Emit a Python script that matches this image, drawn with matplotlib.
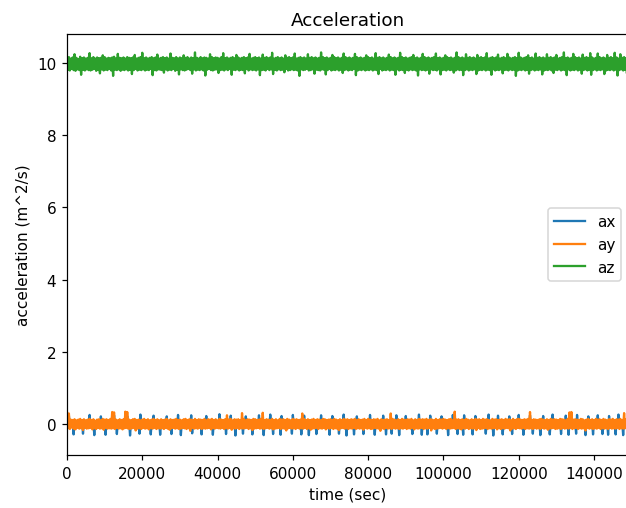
import numpy as np
import matplotlib
matplotlib.use("Agg")
import matplotlib.pyplot as plt

plt.rcParams["path.simplify"] = False

# sample spacing (sec) of the readings below
time_step = 250

acc_z = [float(v) for v in """
10.13 9.81 10.16 9.79 10.12 9.83 10.15 9.80 10.24 9.78 10.14 9.82 10.11 9.80 10.17 9.67 10.13 9.81 10.15 9.79
10.12 9.82 10.14 9.80 10.27 9.79 10.13 9.81 10.16 9.83 10.12 9.78 10.15 9.80 10.13 9.71 10.14 9.82 10.21 9.79
10.16 9.81 10.12 9.80 10.14 9.83 10.13 9.79 10.15 9.64 10.17 9.81 10.12 9.80 10.25 9.82 10.14 9.78 10.13 9.81
10.15 9.80 10.12 9.82 10.16 9.79 10.14 9.81 10.13 9.69 10.15 9.80 10.22 9.83 10.12 9.79 10.14 9.81 10.16 9.80
10.28 9.82 10.13 9.79 10.15 9.81 10.12 9.80 10.14 9.83 10.16 9.66 10.13 9.80 10.15 9.79 10.23 9.82 10.12 9.81
10.14 9.80 10.16 9.73 10.13 9.82 10.15 9.79 10.12 9.81 10.26 9.80 10.14 9.83 10.13 9.78 10.16 9.81 10.12 9.68
10.15 9.82 10.13 9.80 10.21 9.79 10.14 9.81 10.16 9.83 10.12 9.80 10.15 9.70 10.13 9.82 10.29 9.79 10.14 9.81
10.12 9.80 10.16 9.82 10.13 9.79 10.15 9.65 10.14 9.81 10.12 9.83 10.24 9.80 10.16 9.79 10.13 9.81 10.15 9.82
10.14 9.72 10.12 9.80 10.16 9.81 10.27 9.79 10.13 9.82 10.15 9.80 10.12 9.83 10.14 9.67 10.16 9.81 10.13 9.80
10.22 9.82 10.15 9.79 10.12 9.81 10.14 9.80 10.16 9.71 10.13 9.83 10.15 9.79 10.25 9.82 10.12 9.80 10.14 9.81
10.16 9.79 10.13 9.82 10.15 9.66 10.12 9.80 10.23 9.81 10.14 9.79 10.16 9.83 10.13 9.80 10.15 9.82 10.28 9.69
10.12 9.81 10.14 9.79 10.16 9.82 10.13 9.80 10.15 9.81 10.12 9.74 10.21 9.83 10.14 9.79 10.16 9.80 10.13 9.82
10.15 9.80 10.26 9.81 10.12 9.79 10.14 9.64 10.16 9.82 10.13 9.80 10.15 9.81 10.12 9.83 10.24 9.79 10.14 9.80
10.16 9.82 10.13 9.70 10.15 9.81 10.12 9.80 10.14 9.79 10.29 9.82 10.16 9.81 10.13 9.68 10.15 9.80 10.12 9.83
10.14 9.79 10.22 9.81 10.16 9.80 10.13 9.82 10.15 9.79 10.12 9.81 10.14 9.72 10.26 9.80 10.16 9.82 10.13 9.79
10.15 9.81 10.12 9.80 10.14 9.83 10.25 9.66 10.16 9.79 10.13 9.81 10.15 9.80 10.12 9.82 10.14 9.79 10.21 9.81
10.16 9.80 10.13 9.82 10.15 9.79 10.12 9.81 10.27 9.80 10.14 9.69 10.16 9.83 10.13 9.79 10.15 9.81 10.12 9.80
10.14 9.82 10.23 9.79 10.16 9.81 10.13 9.80 10.15 9.67 10.12 9.82 10.14 9.79 10.28 9.81 10.16 9.80 10.13 9.72
10.15 9.81 10.12 9.79 10.14 9.82 10.16 9.80 10.22 9.81 10.13 9.79 10.15 9.65 10.12 9.82 10.14 9.80 10.25 9.81
10.16 9.79 10.13 9.81 10.15 9.70 10.12 9.82 10.14 9.80 10.16 9.81 10.26 9.79 10.13 9.82 10.15 9.68 10.12 9.80
10.14 9.81 10.21 9.79 10.16 9.82 10.13 9.80 10.15 9.81 10.12 9.73 10.14 9.79 10.29 9.82 10.16 9.80 10.13 9.81
10.15 9.66 10.12 9.80 10.24 9.82 10.14 9.79 10.16 9.81 10.13 9.80 10.15 9.82 10.12 9.69 10.22 9.79 10.14 9.81
10.16 9.80 10.13 9.82 10.15 9.79 10.27 9.81 10.12 9.80 10.14 9.67 10.16 9.82 10.13 9.79 10.15 9.81 10.23 9.80
10.12 9.82 10.14 9.71 10.16 9.80 10.13 9.81 10.25 9.79 10.15 9.82 10.12 9.80 10.14 9.81 10.16 9.64 10.13 9.79
10.28 9.81 10.15 9.80 10.12 9.82 10.14 9.79 10.16 9.81 10.21 9.70 10.13 9.80 10.15 9.82 10.12 9.79 10.26 9.81
10.14 9.80 10.16 9.82 10.13 9.68 10.15 9.79 10.12 9.81 10.24 9.80 10.14 9.82 10.16 9.79 10.13 9.72 10.15 9.81
10.22 9.80 10.12 9.82 10.14 9.79 10.16 9.81 10.29 9.80 10.13 9.66 10.15 9.82 10.12 9.79 10.14 9.81 10.25 9.80
10.16 9.82 10.13 9.79 10.15 9.81 10.12 9.70 10.23 9.80 10.14 9.82 10.16 9.79 10.13 9.81 10.27 9.67 10.15 9.80
10.12 9.82 10.14 9.79 10.26 9.81 10.16 9.80 10.13 9.82 10.15 9.69 10.12 9.79 10.22 9.81 10.14 9.80 10.16 9.82
10.13 9.79 10.28 9.81 10.15 9.65 10.12 9.80 10.24 9.82 10.14 9.79 10.16 9.81 10.13 9.71 10.25 9.80 10.15 9.82
""".split()]

acc_x = [float(v) for v in """
0.05 -0.06 0.23 -0.05 0.06 -0.07 0.05 -0.29 0.07 -0.05 0.06 -0.06 0.05 -0.07 0.06 -0.05 0.07 -0.27 0.05 -0.06
0.06 -0.05 0.05 -0.06 0.25 -0.07 0.06 -0.05 0.05 -0.31 0.07 -0.06 0.06 -0.05 0.05 -0.07 0.21 -0.06 0.06 -0.05
0.07 -0.30 0.05 -0.06 0.06 -0.05 0.05 -0.07 0.07 -0.06 0.24 -0.05 0.05 -0.28 0.06 -0.07 0.05 -0.06 0.07 -0.05
0.06 -0.06 0.05 -0.05 0.22 -0.07 0.06 -0.32 0.05 -0.06 0.07 -0.05 0.06 -0.06 0.05 -0.07 0.06 -0.27 0.26 -0.05
0.05 -0.07 0.06 -0.06 0.07 -0.05 0.05 -0.06 0.06 -0.29 0.05 -0.07 0.23 -0.05 0.06 -0.06 0.07 -0.05 0.05 -0.30
0.06 -0.05 0.05 -0.06 0.07 -0.07 0.21 -0.05 0.06 -0.06 0.05 -0.28 0.06 -0.05 0.07 -0.07 0.05 -0.06 0.25 -0.05
0.05 -0.31 0.06 -0.06 0.05 -0.05 0.07 -0.07 0.06 -0.06 0.05 -0.05 0.24 -0.26 0.06 -0.07 0.05 -0.06 0.07 -0.05
0.06 -0.06 0.05 -0.29 0.07 -0.05 0.06 -0.07 0.22 -0.06 0.05 -0.05 0.06 -0.06 0.07 -0.30 0.05 -0.07 0.06 -0.05
0.05 -0.06 0.27 -0.05 0.06 -0.07 0.05 -0.06 0.07 -0.28 0.06 -0.05 0.05 -0.06 0.23 -0.07 0.06 -0.05 0.05 -0.32
0.07 -0.06 0.06 -0.05 0.05 -0.07 0.06 -0.27 0.07 -0.06 0.21 -0.05 0.05 -0.06 0.06 -0.07 0.05 -0.29 0.07 -0.05
0.06 -0.06 0.05 -0.05 0.24 -0.07 0.06 -0.06 0.05 -0.31 0.07 -0.05 0.06 -0.06 0.05 -0.07 0.26 -0.05 0.06 -0.28
0.05 -0.06 0.07 -0.05 0.06 -0.07 0.05 -0.30 0.22 -0.06 0.06 -0.05 0.05 -0.06 0.07 -0.07 0.06 -0.05 0.05 -0.27
0.25 -0.06 0.06 -0.05 0.05 -0.07 0.07 -0.06 0.06 -0.29 0.05 -0.05 0.23 -0.06 0.06 -0.07 0.05 -0.31 0.07 -0.05
0.06 -0.06 0.05 -0.05 0.07 -0.28 0.06 -0.07 0.05 -0.06 0.24 -0.05 0.06 -0.06 0.05 -0.07 0.07 -0.05 0.06 -0.30
0.05 -0.06 0.22 -0.05 0.06 -0.07 0.05 -0.06 0.07 -0.27 0.06 -0.05 0.05 -0.06 0.26 -0.07 0.06 -0.32 0.05 -0.05
0.07 -0.06 0.06 -0.05 0.05 -0.29 0.06 -0.07 0.21 -0.06 0.05 -0.05 0.07 -0.06 0.06 -0.28 0.05 -0.07 0.06 -0.05
0.05 -0.06 0.25 -0.05 0.07 -0.07 0.06 -0.30 0.05 -0.06 0.06 -0.05 0.05 -0.06 0.07 -0.07 0.23 -0.05 0.06 -0.29
0.06 -0.06 0.05 -0.05 0.06 -0.27 0.07 -0.07 0.05 -0.06 0.24 -0.05 0.06 -0.31 0.05 -0.06 0.07 -0.05 0.06 -0.07
0.22 -0.06 0.05 -0.05 0.06 -0.07 0.05 -0.28 0.07 -0.06 0.06 -0.05 0.05 -0.06 0.26 -0.07 0.06 -0.30 0.05 -0.05
0.07 -0.06 0.06 -0.29 0.05 -0.05 0.23 -0.07 0.06 -0.06 0.05 -0.05 0.07 -0.27 0.06 -0.06 0.05 -0.07 0.21 -0.05
0.06 -0.06 0.05 -0.05 0.07 -0.31 0.06 -0.07 0.05 -0.06 0.25 -0.05 0.06 -0.06 0.05 -0.28 0.07 -0.07 0.06 -0.05
0.05 -0.30 0.24 -0.06 0.06 -0.05 0.05 -0.07 0.07 -0.06 0.06 -0.29 0.05 -0.05 0.22 -0.06 0.06 -0.07 0.05 -0.05
0.07 -0.06 0.06 -0.05 0.05 -0.27 0.06 -0.07 0.26 -0.06 0.05 -0.05 0.07 -0.32 0.06 -0.06 0.05 -0.07 0.23 -0.05
0.06 -0.06 0.05 -0.29 0.07 -0.05 0.06 -0.07 0.05 -0.06 0.21 -0.05 0.06 -0.28 0.05 -0.06 0.07 -0.07 0.06 -0.05
0.25 -0.06 0.05 -0.05 0.06 -0.30 0.05 -0.07 0.07 -0.06 0.06 -0.05 0.24 -0.06 0.05 -0.27 0.06 -0.07 0.05 -0.05
0.07 -0.06 0.06 -0.31 0.05 -0.05 0.22 -0.07 0.06 -0.06 0.05 -0.05 0.07 -0.29 0.06 -0.06 0.26 -0.07 0.05 -0.05
0.06 -0.06 0.05 -0.05 0.07 -0.28 0.06 -0.07 0.05 -0.06 0.23 -0.05 0.06 -0.30 0.05 -0.06 0.07 -0.07 0.06 -0.05
0.05 -0.27 0.25 -0.06 0.06 -0.05 0.05 -0.07 0.07 -0.06 0.06 -0.31 0.05 -0.05 0.21 -0.06 0.06 -0.07 0.05 -0.29
0.07 -0.06 0.06 -0.05 0.24 -0.07 0.05 -0.06 0.06 -0.28 0.05 -0.05 0.07 -0.06 0.06 -0.30 0.22 -0.07 0.05 -0.05
0.06 -0.06 0.05 -0.29 0.07 -0.05 0.26 -0.07 0.06 -0.06 0.05 -0.31 0.07 -0.05 0.06 -0.06 0.23 -0.07 0.05 -0.32
""".split()]

acc_y = [float(v) for v in """
0.31 -0.12 0.29 -0.14 0.12 -0.10 0.11 -0.13 0.13 -0.15 0.10 -0.11 0.12 -0.13 0.14 -0.12 0.11 -0.17 0.13 -0.11
0.10 -0.13 0.12 -0.12 0.14 -0.11 0.11 -0.15 0.13 -0.12 0.09 -0.14 0.12 -0.11 0.13 -0.13 0.10 -0.12 0.14 -0.16
0.12 -0.11 0.13 -0.13 0.11 -0.12 0.14 -0.13 0.33 -0.12 0.32 -0.14 0.12 -0.11 0.10 -0.13 0.13 -0.12 0.11 -0.15
0.13 -0.12 0.34 -0.11 0.33 -0.13 0.12 -0.14 0.10 -0.12 0.13 -0.11 0.14 -0.18 0.11 -0.13 0.12 -0.12 0.10 -0.14
0.12 -0.11 0.14 -0.13 0.11 -0.12 0.13 -0.15 0.10 -0.12 0.12 -0.13 0.14 -0.11 0.11 -0.14 0.13 -0.12 0.10 -0.13
0.13 -0.12 0.11 -0.14 0.12 -0.11 0.14 -0.13 0.10 -0.16 0.13 -0.12 0.11 -0.11 0.12 -0.13 0.14 -0.12 0.11 -0.14
0.12 -0.13 0.10 -0.11 0.13 -0.12 0.14 -0.14 0.11 -0.12 0.13 -0.19 0.12 -0.11 0.10 -0.13 0.14 -0.12 0.11 -0.13
0.13 -0.11 0.12 -0.14 0.11 -0.12 0.14 -0.13 0.10 -0.12 0.13 -0.11 0.12 -0.15 0.14 -0.12 0.11 -0.13 0.13 -0.11
0.10 -0.12 0.14 -0.13 0.12 -0.11 0.11 -0.14 0.13 -0.12 0.24 -0.13 0.12 -0.11 0.14 -0.16 0.10 -0.12 0.13 -0.13
0.12 -0.11 0.13 -0.14 0.11 -0.12 0.30 -0.13 0.14 -0.12 0.10 -0.11 0.13 -0.14 0.12 -0.12 0.11 -0.17 0.14 -0.13
0.13 -0.12 0.11 -0.11 0.12 -0.13 0.14 -0.12 0.31 -0.14 0.10 -0.12 0.13 -0.11 0.12 -0.13 0.11 -0.12 0.14 -0.15
0.11 -0.13 0.13 -0.12 0.10 -0.11 0.14 -0.14 0.12 -0.12 0.13 -0.13 0.11 -0.18 0.14 -0.12 0.12 -0.11 0.10 -0.13
0.14 -0.12 0.12 -0.14 0.13 -0.11 0.11 -0.13 0.12 -0.12 0.29 -0.13 0.14 -0.11 0.10 -0.14 0.13 -0.12 0.11 -0.16
0.12 -0.13 0.14 -0.12 0.11 -0.11 0.13 -0.14 0.12 -0.12 0.10 -0.13 0.14 -0.11 0.13 -0.15 0.11 -0.12 0.12 -0.13
0.13 -0.11 0.11 -0.14 0.14 -0.12 0.12 -0.13 0.10 -0.17 0.13 -0.12 0.11 -0.11 0.14 -0.13 0.12 -0.12 0.13 -0.14
0.11 -0.12 0.13 -0.13 0.12 -0.11 0.14 -0.14 0.10 -0.12 0.13 -0.13 0.11 -0.12 0.12 -0.16 0.14 -0.11 0.11 -0.13
0.14 -0.12 0.12 -0.14 0.11 -0.13 0.13 -0.11 0.12 -0.12 0.14 -0.13 0.10 -0.19 0.13 -0.12 0.11 -0.14 0.12 -0.11
0.13 -0.13 0.11 -0.12 0.29 -0.14 0.14 -0.11 0.12 -0.13 0.10 -0.12 0.13 -0.14 0.11 -0.12 0.14 -0.13 0.12 -0.11
0.11 -0.14 0.13 -0.12 0.12 -0.13 0.14 -0.11 0.10 -0.15 0.13 -0.12 0.11 -0.13 0.14 -0.12 0.12 -0.11 0.13 -0.14
0.12 -0.12 0.14 -0.13 0.11 -0.11 0.13 -0.18 0.12 -0.12 0.10 -0.14 0.14 -0.13 0.11 -0.12 0.13 -0.11 0.12 -0.13
0.14 -0.11 0.12 -0.14 0.11 -0.12 0.13 -0.13 0.14 -0.12 0.10 -0.11 0.34 -0.14 0.12 -0.12 0.13 -0.13 0.11 -0.15
0.13 -0.12 0.11 -0.13 0.14 -0.11 0.12 -0.14 0.10 -0.12 0.13 -0.13 0.11 -0.12 0.14 -0.17 0.12 -0.11 0.13 -0.14
0.11 -0.13 0.14 -0.12 0.12 -0.11 0.13 -0.14 0.11 -0.12 0.10 -0.13 0.14 -0.12 0.12 -0.11 0.13 -0.15 0.11 -0.12
0.12 -0.14 0.13 -0.12 0.11 -0.13 0.14 -0.11 0.12 -0.12 0.13 -0.18 0.10 -0.13 0.14 -0.12 0.11 -0.14 0.13 -0.11
0.14 -0.12 0.12 -0.13 0.11 -0.11 0.13 -0.14 0.12 -0.12 0.14 -0.13 0.33 -0.12 0.11 -0.14 0.13 -0.11 0.12 -0.13
0.11 -0.12 0.13 -0.14 0.14 -0.11 0.12 -0.13 0.10 -0.12 0.13 -0.16 0.11 -0.13 0.14 -0.12 0.12 -0.11 0.13 -0.14
0.12 -0.13 0.11 -0.12 0.14 -0.14 0.13 -0.11 0.12 -0.13 0.10 -0.12 0.14 -0.13 0.32 -0.11 0.33 -0.14 0.12 -0.12
0.13 -0.11 0.12 -0.14 0.11 -0.12 0.14 -0.13 0.13 -0.12 0.10 -0.18 0.12 -0.11 0.14 -0.13 0.11 -0.12 0.13 -0.14
0.11 -0.12 0.14 -0.13 0.12 -0.11 0.13 -0.14 0.11 -0.12 0.14 -0.13 0.12 -0.12 0.10 -0.14 0.13 -0.11 0.12 -0.13
0.14 -0.12 0.11 -0.13 0.13 -0.11 0.12 -0.14 0.14 -0.12 0.11 -0.13 0.30 -0.12 0.13 -0.11 0.12 -0.14 0.11 -0.13
""".split()]

series_labels = ["ax", "ay", "az"]
x_ticks = [0, 20000, 40000, 60000, 80000, 100000, 120000, 140000]
y_ticks = [0, 2, 4, 6, 8, 10]

t = np.arange(len(acc_z)) * time_step

DPI = 110
fig = plt.figure(figsize=(626 / DPI, 509 / DPI), dpi=DPI)
axes = fig.add_axes([67 / 626, 1 - 456 / 509, (629 - 67) / 626, (456 - 35) / 509])

for vals, lab in zip([acc_x, acc_y, acc_z], series_labels):
    axes.plot(t[:len(vals)], vals, label=lab)

axes.set_xlim(0, 149300)
axes.set_ylim(-0.86, 10.80)
axes.set_xticks(x_ticks)
axes.set_yticks(y_ticks)
axes.set_title("Acceleration")
axes.set_xlabel("time (sec)")
axes.set_ylabel("acceleration (m^2/s)")
axes.legend(loc="center right")

fig.savefig("out.png", dpi=DPI)
